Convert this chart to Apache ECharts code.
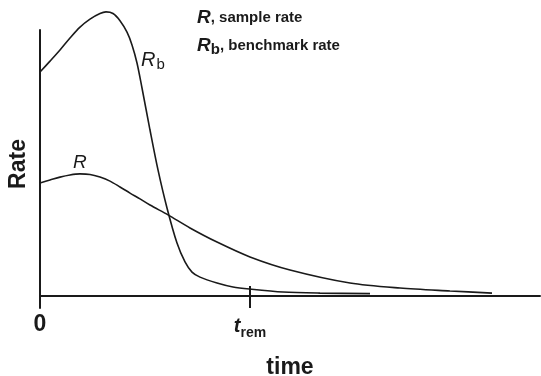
<!DOCTYPE html>
<html>
<head>
<meta charset="utf-8">
<script src="https://cdn.jsdelivr.net/npm/echarts@6/dist/echarts.min.js"></script>
<style>html,body{margin:0;padding:0;background:#fff}#c{width:541px;height:376px}</style>
</head>
<body>
<div id="c"></div>
<script>
// time in arbitrary units, rate in arbitrary units
var rbTime = [0, 0.2, 0.4, 0.6, 0.8, 1.0, 1.2, 1.32, 1.46, 1.6, 1.74, 1.84, 1.94, 2.04, 2.2, 2.36, 2.54, 2.74, 2.9, 3.04, 3.2, 3.54, 3.86, 4.2, 4.86, 5.6, 6.6];
var rbRate = [0.842, 0.883, 0.925, 0.970, 1.011, 1.041, 1.062, 1.068, 1.062, 1.035, 0.992, 0.944, 0.876, 0.782, 0.624, 0.474, 0.331, 0.199, 0.128, 0.090, 0.071, 0.049, 0.034, 0.026, 0.015, 0.011, 0.009];
var rTime = [0, 0.2, 0.4, 0.6, 0.8, 1.0, 1.2, 1.4, 1.6, 1.8, 2.0, 2.2, 2.56, 3.0, 3.54, 4.2, 5.0, 6.2, 7.2, 8.2, 9.04];
var rRate = [0.425, 0.436, 0.447, 0.455, 0.459, 0.457, 0.447, 0.432, 0.410, 0.387, 0.365, 0.342, 0.305, 0.256, 0.203, 0.147, 0.098, 0.049, 0.030, 0.019, 0.011];
var tRem = 4.2;
var xTickLabels = ['0', 't_rem'];

function pairs(xs, ys) { return xs.map(function (x, i) { return [x, ys[i]]; }); }

var FONT = 'Liberation Sans, Arial, Helvetica, sans-serif';
var INK = '#1a1a1a';

var chart = echarts.init(document.getElementById('c'), null, {renderer: 'canvas'});
chart.setOption({
  animation: false,
  backgroundColor: '#fff',
  textStyle: {fontFamily: FONT},
  grid: {left: 40, right: 1, top: 30, bottom: 68, containLabel: false, outerBoundsMode: 'none'},
  title: [
    {left: 197, top: 8, padding: 0, text: '{r|R}{t|, sample rate}',
     textStyle: {rich: {r: {fontFamily: FONT, fontSize: 19, fontWeight: 'bold', fontStyle: 'italic', color: INK},
                        t: {fontFamily: FONT, fontSize: 15, fontWeight: 'bold', color: INK}}}},
    {left: 197, top: 34, padding: 0, text: '{r|R}{b|b}{t|, benchmark rate}',
     textStyle: {rich: {r: {fontFamily: FONT, fontSize: 19, fontWeight: 'bold', fontStyle: 'italic', color: INK},
                        b: {fontFamily: FONT, fontSize: 15, fontWeight: 'bold', color: INK, padding: [8, 0, 0, 0]},
                        t: {fontFamily: FONT, fontSize: 15, fontWeight: 'bold', color: INK}}}},
    {left: 141, top: 49, padding: 0, text: '{r|R}{b|b}',
     textStyle: {fontWeight: 'normal', rich: {r: {fontFamily: FONT, fontSize: 20, fontWeight: 'normal', fontStyle: 'italic', color: INK},
                        b: {fontFamily: FONT, fontSize: 15, fontWeight: 'normal', color: INK, padding: [8, 0, 0, 1]}}}},
    {left: 73, top: 153, padding: 0, text: '{r|R}',
     textStyle: {fontWeight: 'normal', rich: {r: {fontFamily: FONT, fontSize: 19, fontWeight: 'normal', fontStyle: 'italic', color: INK}}}}
  ],
  xAxis: {
    type: 'value', min: 0, max: 10,
    name: 'time', nameLocation: 'middle', nameGap: 48,
    nameTextStyle: {fontFamily: FONT, fontSize: 23, fontWeight: 'bold', color: INK},
    axisLine: {show: true, onZero: true, lineStyle: {color: INK, width: 2}},
    axisTick: {show: false},
    splitLine: {show: false},
    axisLabel: {
      show: true, customValues: [0, tRem], margin: 5,
      formatter: function (v) {
        return v === 0 ? '{z|' + xTickLabels[0] + '}' : '{t|t}{s|rem}';
      },
      rich: {
        z: {fontFamily: FONT, fontSize: 23, fontWeight: 'bold', color: INK},
        t: {fontFamily: FONT, fontSize: 20, fontWeight: 'bold', fontStyle: 'italic', color: INK},
        s: {fontFamily: FONT, fontSize: 14, fontWeight: 'bold', color: INK, padding: [13, 0, 0, 0]}
      }
    }
  },
  yAxis: {
    type: 'value', min: -0.045, max: 1.0,
    name: 'Rate', nameLocation: 'middle', nameGap: 10, nameRotate: 90,
    nameTextStyle: {fontFamily: FONT, fontSize: 23, fontWeight: 'bold', color: INK, padding: [0, 0, 0, 10]},
    axisLine: {show: true, onZero: true, lineStyle: {color: INK, width: 2}},
    axisTick: {show: false},
    axisLabel: {show: false},
    splitLine: {show: false}
  },
  series: [
    {
      name: 'Rb', type: 'line', data: pairs(rbTime, rbRate), smooth: 0.3, clip: false,
      showSymbol: false, lineStyle: {color: INK, width: 1.6},
      markLine: {
        silent: true, symbol: ['none', 'none'], label: {show: false},
        lineStyle: {color: INK, width: 2, type: 'solid'},
        data: [[{coord: [tRem, -0.045]}, {coord: [tRem, 0.038]}]]
      }
    },
    {
      name: 'R', type: 'line', data: pairs(rTime, rRate), smooth: 0.3, clip: false,
      showSymbol: false, lineStyle: {color: INK, width: 1.6}
    }
  ]
});
</script>
</body>
</html>
